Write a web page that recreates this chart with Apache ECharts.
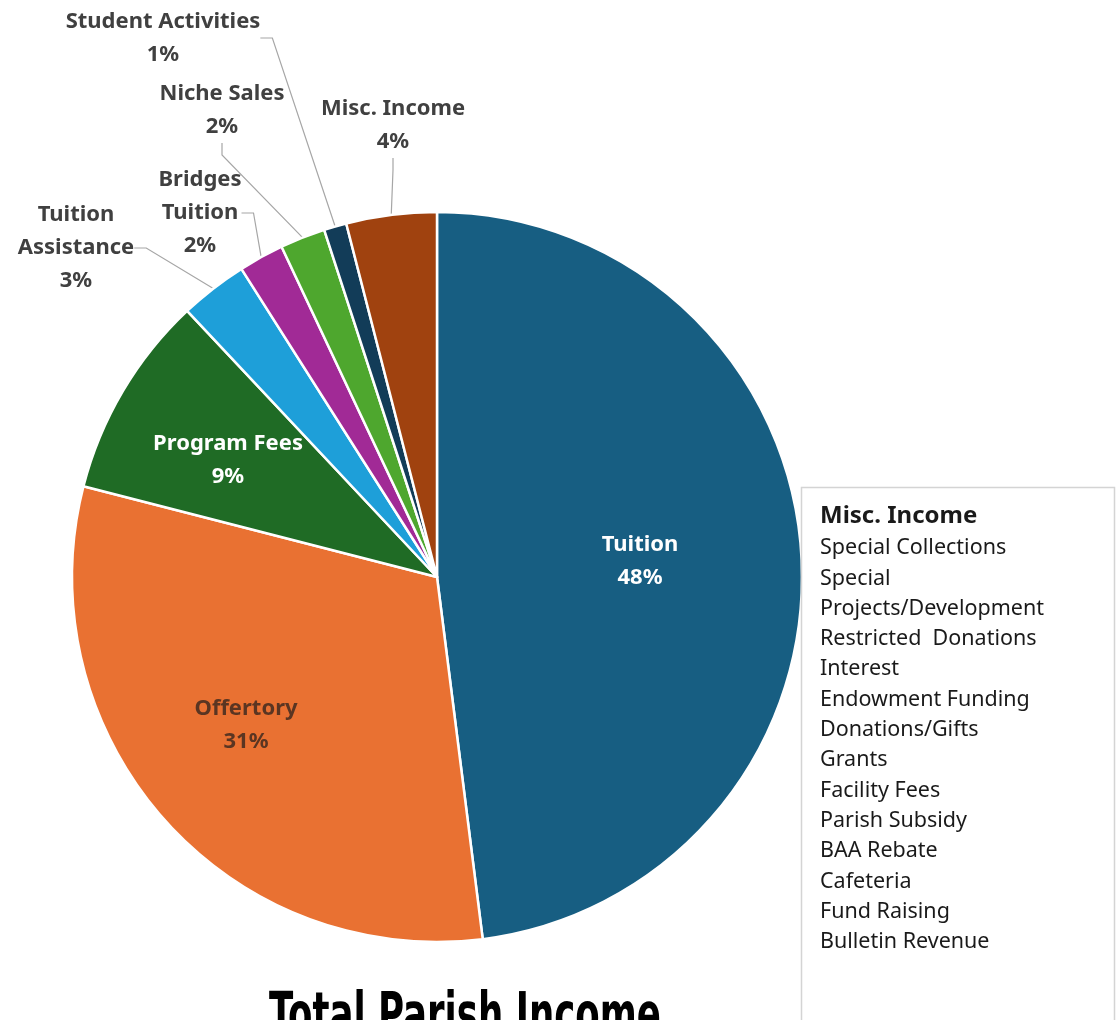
<!DOCTYPE html>
<html>
<head>
<meta charset="utf-8">
<title>Total Parish Income</title>
<script src="https://cdn.jsdelivr.net/npm/echarts@6/dist/echarts.min.js"></script>
<style>
  html, body { margin: 0; padding: 0; background: #ffffff; }
  #chart { width: 1117px; height: 1020px; }
</style>
</head>
<body>
<div id="chart"></div>
<script>
// Income categories, clockwise from 12 o'clock
const categories = [
  'Tuition', 'Offertory', 'Program Fees', 'Tuition Assistance',
  'Bridges Tuition', 'Niche Sales', 'Student Activities', 'Misc. Income'
];
// Share of total parish income (%)
const shares = [48, 31, 9, 3, 2, 2, 1, 4];

// Sources grouped under "Misc. Income"
const miscTitle = 'Misc. Income';
const miscItems = [
  'Special Collections', 'Special', 'Projects/Development', 'Restricted  Donations',
  'Interest', 'Endowment Funding', 'Donations/Gifts', 'Grants', 'Facility Fees',
  'Parish Subsidy', 'BAA Rebate', 'Cafeteria', 'Fund Raising', 'Bulletin Revenue'
];

const chartTitle = 'Total Parish Income';

// Slice colours
const colors = ['#175e82', '#e97132', '#1f6b25', '#1e9fd9', '#a12a96', '#4ea72e', '#123c58', '#a0420f'];

// Label text as displayed (line breaks per slice)
const labelText = {
  'Tuition': 'Tuition',
  'Offertory': 'Offertory',
  'Program Fees': 'Program Fees',
  'Tuition Assistance': 'Tuition\nAssistance',
  'Bridges Tuition': 'Bridges\nTuition',
  'Niche Sales': 'Niche Sales',
  'Student Activities': 'Student Activities',
  'Misc. Income': 'Misc. Income'
};
const insideSlices = ['Tuition', 'Offertory', 'Program Fees'];
const insideColor = { 'Tuition': '#ffffff', 'Offertory': '#5a3522', 'Program Fees': '#ffffff' };

// Label block centres (px)
const labelPos = {
  'Tuition': [640, 561],
  'Offertory': [246, 725],
  'Program Fees': [228, 460],
  'Tuition Assistance': [76, 248],
  'Bridges Tuition': [200, 213],
  'Niche Sales': [222, 110],
  'Student Activities': [163, 38],
  'Misc. Income': [393, 125]
};

const FONT = '"Noto Sans", "Open Sans", sans-serif';
const TITLE_FONT = '"DejaVu Sans Condensed", "DejaVu Sans", sans-serif';
const TITLE_SIZE = 58;
const TITLE_WIDTH = 392;

// Squeeze the title horizontally to a narrow poster-style face
const measureCtx = document.createElement('canvas').getContext('2d');
measureCtx.font = 'bold ' + TITLE_SIZE + 'px ' + TITLE_FONT;
const titleScaleX = TITLE_WIDTH / measureCtx.measureText(chartTitle).width;

const chart = echarts.init(document.getElementById('chart'), null, { renderer: 'canvas' });

const data = categories.map((name, i) => {
  const inside = insideSlices.includes(name);
  return {
    name,
    value: shares[i],
    itemStyle: { color: colors[i] },
    label: {
      position: inside ? 'inside' : 'outside',
      color: inside ? insideColor[name] : '#404040'
    },
    labelLine: { show: !inside }
  };
});

const miscLines = [
  '{h|' + miscTitle + '}',
  ...miscItems.map(t => '{i|' + t + '}')
].join('\n');

chart.setOption({
  animation: false,
  graphic: [
    {
      type: 'text',
      z: 12,
      x: 465,
      y: 1019,
      scaleX: titleScaleX,
      style: {
        text: chartTitle,
        fontFamily: TITLE_FONT,
        fontWeight: 'bold',
        fontSize: TITLE_SIZE,
        fill: '#000000',
        textAlign: 'center',
        textVerticalAlign: 'middle'
      }
    },
    {
      type: 'rect',
      z: 10,
      shape: { x: 801.5, y: 487.5, width: 313, height: 560 },
      style: { fill: '#ffffff', stroke: '#d4d4d4', lineWidth: 1.5 }
    },
    {
      type: 'text',
      z: 11,
      left: 820,
      top: 504,
      style: {
        text: miscLines,
        rich: {
          h: { fontFamily: FONT, fontWeight: 'bold', fontSize: 24, lineHeight: 34, fill: '#1a1a1a', color: '#1a1a1a' },
          i: { fontFamily: FONT, fontSize: 21.5, lineHeight: 30.3, fill: '#1a1a1a', color: '#1a1a1a' }
        }
      }
    }
  ],
  series: [
    {
      type: 'pie',
      center: [437, 577],
      radius: 365,
      startAngle: 90,
      clockwise: true,
      avoidLabelOverlap: false,
      itemStyle: { borderColor: '#ffffff', borderWidth: 2.5 },
      label: {
        show: true,
        fontFamily: FONT,
        fontWeight: 'bold',
        fontSize: 22,
        lineHeight: 33,
        align: 'center',
        formatter: p => labelText[p.name] + '\n' + p.value + '%'
      },
      labelLine: {
        show: true,
        length: 10,
        length2: 12,
        lineStyle: { color: '#a6a6a6', width: 1.2 }
      },
      labelLayout: function (params) {
        const name = categories[params.dataIndex];
        const p = labelPos[name];
        return { x: p[0], y: p[1], align: 'center', verticalAlign: 'middle' };
      },
      data: data
    }
  ]
});
</script>
</body>
</html>
